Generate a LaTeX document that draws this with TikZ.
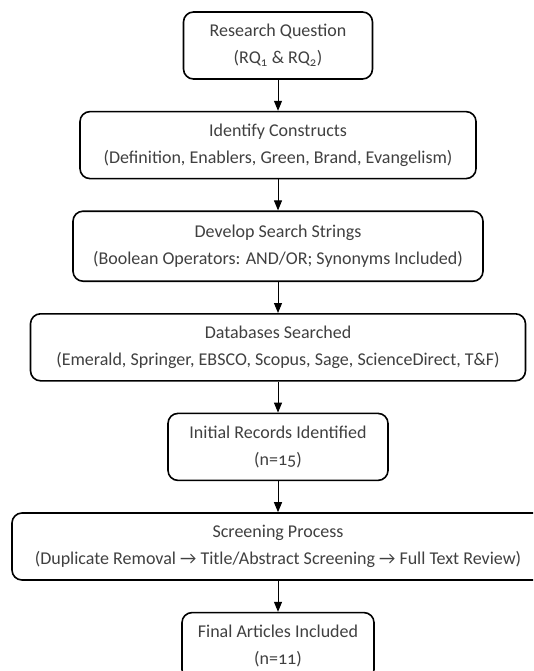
\documentclass[tikz,border=0pt]{standalone}
\usepackage{fontspec}
\setmainfont{Carlito}[Numbers=OldStyle]
\usepackage{tikz}
\usetikzlibrary{arrows.meta, positioning}
\definecolor{inkgray}{RGB}{64,64,64}
\tikzset{
  stage/.style={rectangle, rounded corners=10pt, draw=black, fill=white,
    line width=1.6pt, minimum height=67pt, inner xsep=4pt, align=center,
    text=inkgray, font=\fontsize{18}{27}\selectfont},
  link/.style={-{Triangle[length=10pt, width=8pt]}, line width=1pt, color=black}
}
\begin{document}
\begin{tikzpicture}[node distance=31pt]
  \clip (0,0) rectangle (533pt,-671pt);
  \useasboundingbox (0,0) rectangle (533pt,-671pt);
  \node[stage, minimum width=189pt] (rq) at (278pt,-45.5pt)
    {Research Question\\(RQ\textsubscript{1} \& RQ\textsubscript{2})};
  \node[stage, minimum width=396pt, below=of rq] (cons)
    {Identify Constructs\\(Definition, Enablers, Green, Brand, Evangelism)};
  \node[stage, minimum width=410pt, minimum height=70pt, below=of cons] (str)
    {Develop Search Strings\\(Boolean Operators: AND/OR; Synonyms Included)};
  \node[stage, minimum width=495pt, below=of str] (db)
    {Databases Searched\\(Emerald, Springer, EBSCO, Scopus, Sage, ScienceDirect, T\&F)};
  \node[stage, minimum width=220pt, below=of db] (init)
    {Initial Records Identified\\(n=15)};
  \node[stage, minimum width=532pt, below=of init] (scr)
    {Screening Process\\(Duplicate Removal → Title/Abstract Screening → Full Text Review)};
  \node[stage, minimum width=192pt, below=of scr] (fin)
    {Final Articles Included\\(n=11)};
  \draw[link] (rq) -- (cons);
  \draw[link] (cons) -- (str);
  \draw[link] (str) -- (db);
  \draw[link] (db) -- (init);
  \draw[link] (init) -- (scr);
  \draw[link] (scr) -- (fin);
\end{tikzpicture}
\end{document}
